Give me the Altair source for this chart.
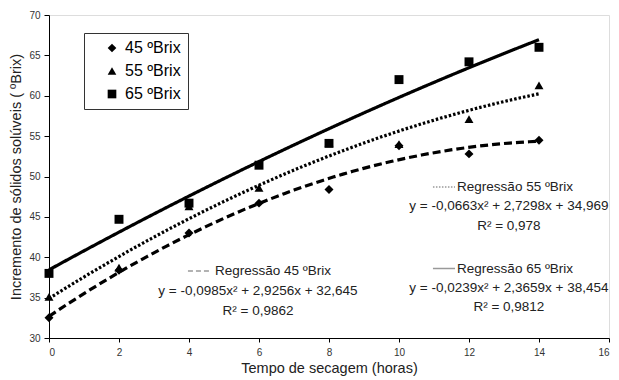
import altair as alt
import pandas as pd

hours = [0, 2, 4, 6, 8, 10, 12, 14]
b45 = [32.5, 38.4, 43.0, 46.7, 48.4, 53.8, 52.8, 54.5]
b55 = [35.1, 38.7, 46.3, 48.6, 54.2, 54.0, 57.1, 61.3]
b65 = [38.0, 44.7, 46.7, 51.4, 54.1, 62.0, 64.2, 66.0]
series = ["45 ºBrix", "55 ºBrix", "65 ºBrix"]

rows = []
for name, vals in zip(series, [b45, b55, b65]):
    for h, v in zip(hours, vals):
        rows.append({"h": h, "v": v, "s": name})
df = pd.DataFrame(rows)

# annotation texts (positions in data units)
ann_title = ["Regressão 45 ºBrix", "Regressão 55 ºBrix", "Regressão 65 ºBrix"]
ann_eq = ["y = -0,0985x² + 2,9256x + 32,645",
          "y = -0,0663x² + 2,7298x + 34,969",
          "y = -0,0239x² + 2,3659x + 38,454"]
ann_r2 = ["R² = 0,9862", "R² = 0,978", "R² = 0,9812"]
ann_cx = [5.97, 13.14, 13.14]
ann_title_x = [4.74, 11.66, 11.66]
ann_y = [[38.3, 35.8, 33.4], [48.7, 46.3, 43.9], [38.6, 36.2, 33.8]]
samp_x = [[3.97, 4.63], [10.97, 11.6], [10.97, 11.6]]

tdf = pd.DataFrame({"x": ann_title_x, "y": [a[0] for a in ann_y], "t": ann_title})
edf = pd.DataFrame({"x": ann_cx * 2,
                    "y": [a[1] for a in ann_y] + [a[2] for a in ann_y],
                    "t": ann_eq + ann_r2})
sdf = pd.DataFrame({"x": [s[0] for s in samp_x], "x2": [s[1] for s in samp_x],
                    "y": [a[0] for a in ann_y], "s": series})

xsc = alt.Scale(domain=[0, 16], nice=False, zero=False)
ysc = alt.Scale(domain=[30, 70], nice=False, zero=False)
dash = alt.Scale(domain=series, range=[[8, 4], [2.5, 2], [1, 0]])
font = "Liberation Sans"

xax = alt.Axis(values=[0, 2, 4, 6, 8, 10, 12, 14, 16], grid=False, domainColor="black",
               tickColor="black", tickSize=4, labelFontSize=10, labelColor="#333",
               labelPadding=5, title="Tempo de secagem (horas)", titleFontSize=14.5,
               titleFontWeight="normal", titleColor="#222", titlePadding=4)
yax = alt.Axis(values=[30, 35, 40, 45, 50, 55, 60, 65, 70], grid=False, domainColor="black",
               tickColor="black", tickSize=5, labelFontSize=10, labelColor="#333",
               labelPadding=4, title="Incremento de sólidos solúveis ( ºBrix)",
               titleFontSize=14.5, titleFontWeight="normal", titleColor="#222", titlePadding=5)

base = alt.Chart(df)

lines = base.transform_regression("h", "v", groupby=["s"], method="poly", order=2).mark_line(
    color="black", strokeWidth=3.2
).encode(
    x=alt.X("h:Q", scale=xsc, axis=xax),
    y=alt.Y("v:Q", scale=ysc, axis=yax),
    strokeDash=alt.StrokeDash("s:N", scale=dash, legend=None),
    detail="s:N",
)

points = base.mark_point(filled=True, color="black", opacity=1).encode(
    x=alt.X("h:Q", scale=xsc),
    y=alt.Y("v:Q", scale=ysc),
    shape=alt.Shape("s:N", scale=alt.Scale(domain=series,
                    range=["diamond", "triangle-up", "square"]),
                    legend=alt.Legend(title=None, orient="none", legendX=35, legendY=18,
                                      strokeColor="#333", padding=7, rowPadding=7,
                                      labelFontSize=16, labelFont=font, labelColor="black",
                                      symbolSize=75, symbolFillColor="black",
                                      symbolStrokeColor="black", labelOffset=5,
                                      symbolOffset=13,
                                      labelExpr="datum.label + '\u00a0\u00a0\u00a0'",
                                      fillColor="white")),
    size=alt.value(80),
)

samples = alt.Chart(sdf).mark_rule(color="#999", strokeWidth=1.5).encode(
    x=alt.X("x:Q", scale=xsc), x2="x2:Q", y=alt.Y("y:Q", scale=ysc),
    strokeDash=alt.StrokeDash("s:N", scale=alt.Scale(domain=series,
                              range=[[5, 3], [1.5, 1.5], [1, 0]]), legend=None),
)

titles = alt.Chart(tdf).mark_text(align="left", baseline="middle", fontSize=13.5,
                                  font=font, color="#222").encode(
    x=alt.X("x:Q", scale=xsc), y=alt.Y("y:Q", scale=ysc), text="t:N")

eqs = alt.Chart(edf).mark_text(align="center", baseline="middle", fontSize=13.5,
                               font=font, color="#222").encode(
    x=alt.X("x:Q", scale=xsc), y=alt.Y("y:Q", scale=ysc), text="t:N")

chart = alt.layer(lines, points, samples, titles, eqs).resolve_scale(
    strokeDash="independent"
).properties(
    width=560, height=323,
    padding={"left": 49, "top": 15, "right": 10, "bottom": 42},
    autosize=alt.AutoSizeParams(type="none"),
).configure_view(stroke=None).configure(font=font)

chart.save("out.html", embed_options={"renderer": "svg", "actions": False})
